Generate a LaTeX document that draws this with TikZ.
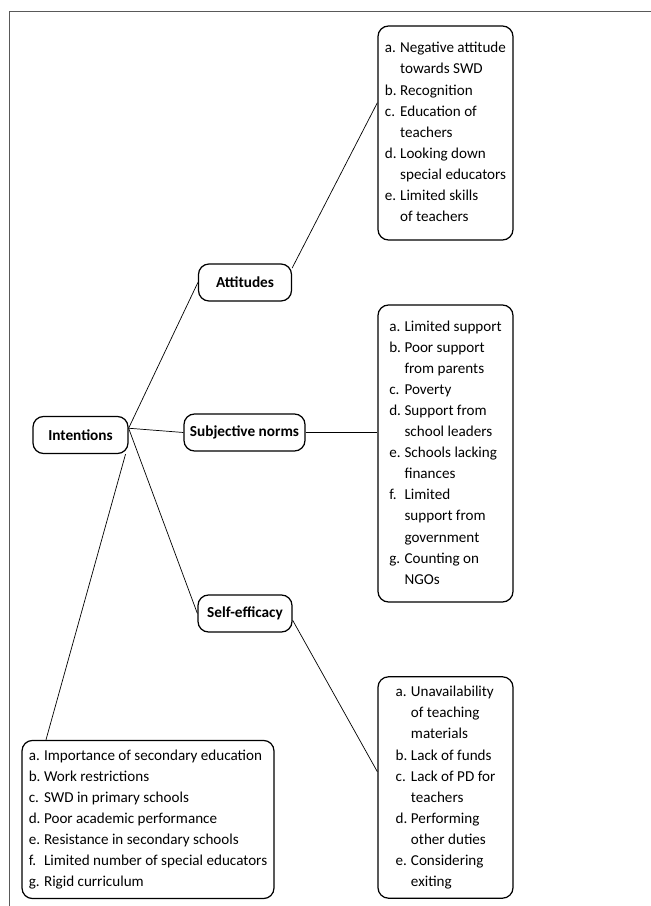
\documentclass[tikz,border=0pt]{standalone}
\usepackage{fontspec}
\setmainfont{Carlito}
\begin{document}
\begin{tikzpicture}[thin,
	factor/.style={draw, line width=0.7pt, rounded corners=6pt, font=\fontsize{8.7}{12}\selectfont\bfseries, minimum height=0.74cm, inner sep=2pt},
	listbox/.style={draw, line width=0.7pt, rounded corners=6pt, minimum width=2.7cm, inner sep=3pt, font=\fontsize{8.6}{12}\selectfont}]
	\useasboundingbox (0,0) rectangle (13.02,18.12);
	\draw[gray!70!black, line width=0.9pt] (0.19,0) |- (13.02,17.886);
	
	\node[factor, minimum width=1.9cm] at (1.61,9.42) (int) {Intentions};
	\node[factor, minimum width=1.86cm] at (4.9,12.47) (att) {Attitudes};
	\node[factor, minimum width=2.42cm] at (4.89,9.47) (sn) {Subjective norms};
	\node[factor, minimum width=1.88cm] at (4.9,5.85) (se) {Self-efficacy};
	
	\node[listbox, minimum height=4.28cm] at (8.91,15.46) (attlist) {\begin{tabular}{@{}l@{\hspace{2pt}}l@{}}
		a. & Negative attitude\\ & towards SWD\\ b. & Recognition\\ c. & Education of\\ & teachers\\
		d. & Looking down\\ & special educators\\ e. & Limited skills\\ & of teachers
	\end{tabular}};
	\node[listbox, minimum height=5.94cm] at (8.91,9.05) (snlist) {\begin{tabular}{@{}l@{\hspace{2pt}}l@{}}
		a. & Limited support\\ b. & Poor support\\ & from parents\\ c. & Poverty\\ d. & Support from\\ & school leaders\\
		e. & Schools lacking\\ & finances\\ f. & Limited\\ & support from\\ & government\\ g. & Counting on\\ & NGOs
	\end{tabular}};
	\node[listbox, minimum height=4.38cm] at (8.91,2.37) (selist) {\begin{tabular}{@{}l@{\hspace{2pt}}l@{}}
		a. & Unavailability\\ & of teaching\\ & materials\\ b. & Lack of funds\\ c. & Lack of PD for\\ & teachers\\
		d. & Performing\\ & other duties\\ e. & Considering\\ & exiting
	\end{tabular}};
	\node[listbox, minimum width=5.04cm, minimum height=3.1cm] at (2.96,1.73) (intlist) {\begin{tabular}{@{}l@{\hspace{2pt}}l@{}}
		a. & Importance of secondary education\\ b. & Work restrictions\\ c. & SWD in primary schools\\
		d. & Poor academic performance\\ e. & Resistance in secondary schools\\
		f. & Limited number of special educators\\ g. & Rigid curriculum
	\end{tabular}};
	
	\draw (int.8) -- (att.west);
	\draw (int.8) -- (sn.west);
	\draw (int.8) -- (se.west);
	\draw (int.-23) -- (intlist.142);
	\draw (att.17) -- (attlist.156);
	\draw (sn.east) -- (sn.east -| snlist.west);
	\draw (se.-8) -- (selist.167);
\end{tikzpicture}
\end{document}
